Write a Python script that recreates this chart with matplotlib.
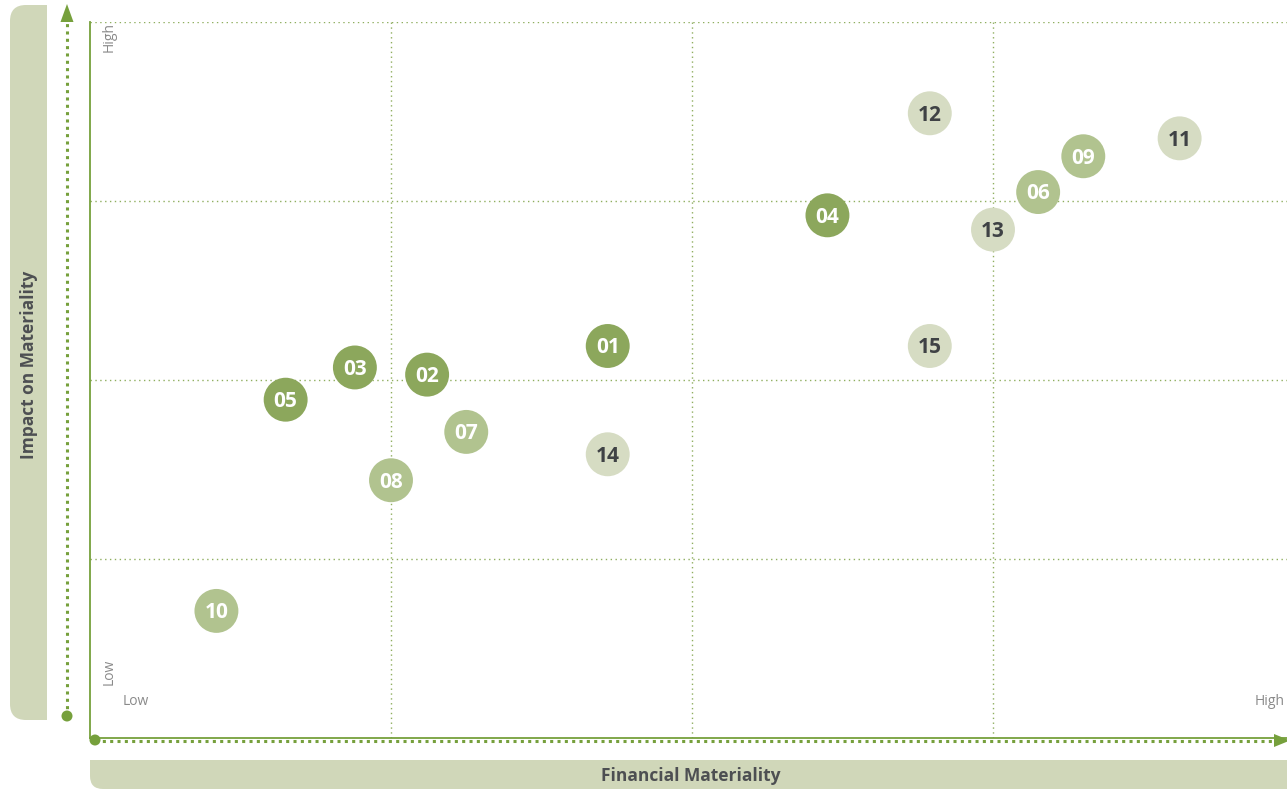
import matplotlib
matplotlib.use("Agg")
import matplotlib.pyplot as plt
from matplotlib.patches import FancyBboxPatch, Rectangle, Polygon, Circle

plt.rcParams["font.family"] = ["Open Sans", "DejaVu Sans"]

# topic numbers and their scores (0..4 on both axes)
labels = ["01", "02", "03", "04", "05", "06", "07", "08", "09", "10",
          "11", "12", "13", "14", "15"]
financial = [1.72, 1.12, 0.88, 2.45, 0.65, 3.15, 1.25, 1.00, 3.30, 0.42,
             3.62, 2.79, 3.00, 1.72, 2.79]
impact = [2.19, 2.03, 2.07, 2.92, 1.89, 3.05, 1.71, 1.44, 3.25, 0.71,
          3.35, 3.49, 2.84, 1.585, 2.19]
# tier of each topic: 0 = high, 1 = medium, 2 = low
tier = [0, 0, 0, 0, 0, 1, 1, 1, 1, 1, 2, 2, 2, 2, 2]

tier_colors = ["#8ca75c", "#b1c38f", "#d6dcc3"]
tier_text = ["white", "white", "#3f4245"]

GREEN = "#76a03c"
BOX = "#d0d7b9"
W, H = 1287, 789

fig = plt.figure(figsize=(W / 100, H / 100), dpi=100)

# ---- background layer in pixel coords for boxes and arrows ----
bg = fig.add_axes([0, 0, 1, 1])
bg.set_xlim(0, W)
bg.set_ylim(H, 0)
bg.axis("off")

# left label box (rounded on the left side only)
bg.add_patch(FancyBboxPatch((10, 5), 37, 715, boxstyle="round,pad=0,rounding_size=16",
                            fc=BOX, ec="none"))
bg.add_patch(Rectangle((30, 5), 17, 715, fc=BOX, ec="none"))
bg.text(29, 365, "Impact on Materiality", rotation=90, ha="center", va="center",
        fontsize=12.5, fontweight="bold", color="#4d4f52")

# bottom label box (rounded bottom-left corner)
bg.add_patch(FancyBboxPatch((90, 760), 1230, 29, boxstyle="round,pad=0,rounding_size=13",
                            fc=BOX, ec="none"))
bg.add_patch(Rectangle((90, 760), 1230, 14, fc=BOX, ec="none"))
bg.add_patch(Rectangle((200, 760), 1120, 29, fc=BOX, ec="none"))
bg.text(691, 776, "Financial Materiality", ha="center", va="center",
        fontsize=12.5, fontweight="bold", color="#4d4f52")

# vertical dotted arrow
bg.plot([67, 67], [716, 22], color=GREEN, lw=2.2, ls=(0, (1, 1.4)))
bg.add_patch(Polygon([[60.5, 22], [73.5, 22], [67, 4]], closed=True, fc=GREEN, ec="none"))
bg.add_patch(Circle((67, 716), 5.5, fc=GREEN, ec="none"))

# horizontal dotted arrow
bg.plot([95, 1276], [740.5, 740.5], color=GREEN, lw=2.2, ls=(0, (1, 1.4)))
bg.add_patch(Polygon([[1274, 734], [1274, 747], [1290, 740.5]], closed=True,
                     fc=GREEN, ec="none"))
bg.add_patch(Circle((95, 740), 5.5, fc=GREEN, ec="none"))

# ---- data axes ----
ax = fig.add_axes([90 / W, 51 / H, 1204 / W, 716 / H])
ax.patch.set_alpha(0)
ax.set_xlim(0, 4)
ax.set_ylim(0, 4)

for v in [1, 2, 3]:
    ax.axvline(v, color="#8fae5f", lw=1, ls=(0, (1, 2.5)), zorder=1)
for v in [1, 2, 3, 4]:
    ax.axhline(v, color="#8fae5f", lw=1, ls=(0, (1, 2.5)), zorder=1)

for side in ["top", "right"]:
    ax.spines[side].set_visible(False)
ax.spines["left"].set_color(GREEN)
ax.spines["bottom"].set_color(GREEN)
ax.spines["left"].set_linewidth(1.3)
ax.spines["bottom"].set_linewidth(1.3)
ax.set_xticks([])
ax.set_yticks([])

colors = [tier_colors[t] for t in tier]
ax.scatter(financial, impact, s=1000, c=colors, edgecolors="none", zorder=3)
for lab, x, y, t in zip(labels, financial, impact, tier):
    ax.text(x, y - 0.01, lab, ha="center", va="center", fontsize=15, fontweight="bold",
            color=tier_text[t], zorder=4)

# corner hints
ax.text(0.065, 4.0, "High", rotation=90, ha="center", va="top", fontsize=10, color="#8a8a8a")
ax.text(0.065, 0.37, "Low", rotation=90, ha="center", va="center", fontsize=10, color="#8a8a8a")
ax.text(0.11, 0.205, "Low", ha="left", va="center", fontsize=10, color="#8a8a8a")
ax.text(3.97, 0.205, "High", ha="right", va="center", fontsize=10, color="#8a8a8a")

fig.savefig("out.png", dpi=100)
